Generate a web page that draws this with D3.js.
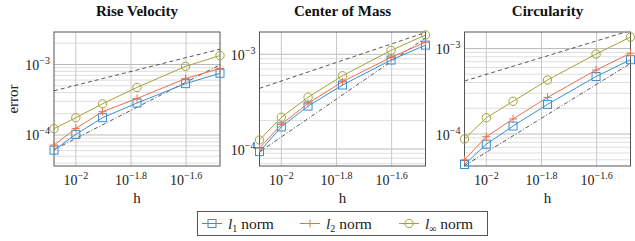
<!DOCTYPE html>
<html><head><meta charset="utf-8">
<script src="https://cdn.jsdelivr.net/npm/d3@7"></script>
<style>body{margin:0;background:#fff}svg{display:block}</style>
</head><body><div id="c"></div>
<script>
const h = [1/120, 1/100, 1/80, 1/60, 1/40, 1/30];
const titles = ["Rise Velocity", "Center of Mass", "Circularity"];
const l1 = [
  [6.1e-5, 1.02e-4, 1.76e-4, 2.84e-4, 5.35e-4, 7.5e-4],
  [9.4e-5, 1.71e-4, 2.84e-4, 4.74e-4, 8.7e-4, 1.25e-3],
  [4.4e-5, 7.6e-5, 1.24e-4, 2.22e-4, 4.7e-4, 7.4e-4]
];
const l2 = [
  [7.2e-5, 1.24e-4, 2.14e-4, 3.3e-4, 6.3e-4, 8.8e-4],
  [1.02e-4, 1.82e-4, 3.04e-4, 5.14e-4, 9.3e-4, 1.34e-3],
  [5.0e-5, 9.3e-5, 1.5e-4, 2.68e-4, 5.6e-4, 8.8e-4]
];
const linf = [
  [1.23e-4, 1.76e-4, 2.77e-4, 4.73e-4, 9.4e-4, 1.34e-3],
  [1.245e-4, 2.16e-4, 3.52e-4, 5.94e-4, 1.1e-3, 1.6e-3],
  [8.75e-5, 1.55e-4, 2.41e-4, 4.28e-4, 8.62e-4, 1.36e-3]
];
// reference lines: values at h = 1/120 and h = 1/30
const refOrder1 = [[4.24e-4, 1.65e-3], [4.37e-4, 1.7e-3], [4.17e-4, 1.62e-3]];
const refOrder2 = [[6.2e-5, 9.9e-4], [9.3e-5, 1.49e-3], [4.26e-5, 6.7e-4]];
const refH = [1/120, 1/30];
// y domains (log10 exponents) per panel
const yExp = [[-4.44, -2.539], [-4.1795, -2.7645], [-4.374, -2.807]];
const xTickExp = [-2, -1.8, -1.6];
const yTickExp = [-4, -3];
const legendLabels = [["1"], ["2"], ["∞"]];

const W = 635, H = 241;
const svg = d3.select("#c").append("svg").attr("width", W).attr("height", H);
const serif = "'Liberation Serif', 'DejaVu Serif', serif";
const colors = ["#3a8ed3", "#e8704e", "#a3a23a"];
const lefts = [54, 259.5, 464.5];
const pw = 166, plotTop = 32, plotBottom = 166;

function sup(sel, base, exp) {
  sel.append("tspan").text(base);
  sel.append("tspan").attr("dy", -6).attr("font-size", "10px").text(exp);
}
function markerDraw(g, type, x, y, color) {
  if (type === 0) g.append("rect").attr("x", x - 4).attr("y", y - 4).attr("width", 8).attr("height", 8)
      .attr("fill", "none").attr("stroke", color).attr("stroke-width", 1);
  else if (type === 1) g.append("path").attr("d", `M${x-4},${y}H${x+4}M${x},${y-4}V${y+4}`)
      .attr("stroke", color).attr("stroke-width", 1);
  else g.append("circle").attr("cx", x).attr("cy", y).attr("r", 4.2)
      .attr("fill", "none").attr("stroke", color).attr("stroke-width", 1);
}

for (let p = 0; p < 3; p++) {
  const L = lefts[p], R = L + pw;
  const x = d3.scaleLog().domain([h[0], h[5]]).range([L, R]);
  const y = d3.scaleLog().domain([Math.pow(10, yExp[p][0]), Math.pow(10, yExp[p][1])]).range([plotBottom, plotTop]);
  const g = svg.append("g");
  const cid = "clip" + p;
  svg.append("clipPath").attr("id", cid).append("rect").attr("x", L).attr("y", plotTop).attr("width", pw).attr("height", plotBottom - plotTop);
  const minor = [];
  for (let e = -5; e <= -2; e++) for (let m = 1; m <= 9; m++) {
    const v = m * Math.pow(10, e);
    if (y(v) > plotTop && y(v) < plotBottom) minor.push({v, major: m === 1});
  }
  g.selectAll(".mg").data(minor).join("line")
    .attr("x1", L).attr("x2", R).attr("y1", d => y(d.v)).attr("y2", d => y(d.v))
    .attr("stroke", d => d.major ? "#bbbbbb" : "#d6d6d6").attr("stroke-width", d => d.major ? 1 : 0.8);
  g.selectAll(".vg").data(xTickExp).join("line")
    .attr("x1", d => x(Math.pow(10, d))).attr("x2", d => x(Math.pow(10, d)))
    .attr("y1", plotTop).attr("y2", plotBottom).attr("stroke", "#c8c8c8").attr("stroke-width", 1);
  const lineGen = d3.line().x(d => x(d[0])).y(d => y(d[1]));
  g.append("path").attr("clip-path", `url(#${cid})`)
    .attr("d", lineGen(refH.map((hh, i) => [hh, refOrder1[p][i]])))
    .attr("stroke", "#444").attr("stroke-width", 0.9).attr("fill", "none").attr("stroke-dasharray", "4,3");
  g.append("path").attr("clip-path", `url(#${cid})`)
    .attr("d", lineGen(refH.map((hh, i) => [hh, refOrder2[p][i]])))
    .attr("stroke", "#444").attr("stroke-width", 0.9).attr("fill", "none").attr("stroke-dasharray", "4,2,1,2");
  g.append("rect").attr("x", L).attr("y", plotTop).attr("width", pw).attr("height", plotBottom - plotTop)
    .attr("fill", "none").attr("stroke", "#555").attr("stroke-width", 1);
  [l1[p], l2[p], linf[p]].forEach((s, k) => {
    g.append("path").attr("d", lineGen(h.map((hh, i) => [hh, s[i]])))
      .attr("stroke", colors[k]).attr("stroke-width", 1).attr("fill", "none");
    h.forEach((hh, i) => markerDraw(g, k, x(hh), y(s[i]), colors[k]));
  });
  xTickExp.forEach(e => {
    const t = g.append("text").attr("x", x(Math.pow(10, e))).attr("y", 185)
      .attr("text-anchor", "middle").attr("font-family", serif).attr("font-size", "14px").attr("fill", "#222");
    sup(t, "10", "−" + String(Math.abs(e)));
  });
  yTickExp.forEach(e => {
    const t = g.append("text").attr("x", L - 4).attr("y", y(Math.pow(10, e)) + 5.5)
      .attr("text-anchor", "end").attr("font-family", serif).attr("font-size", "14px").attr("fill", "#222");
    sup(t, "10", "−" + String(Math.abs(e)));
  });
  g.append("text").attr("x", (L + R) / 2).attr("y", 16).attr("text-anchor", "middle")
    .attr("font-family", serif).attr("font-weight", "bold").attr("font-size", "15px").attr("fill", "#111").text(titles[p]);
  g.append("text").attr("x", (L + R) / 2).attr("y", 203).attr("text-anchor", "middle")
    .attr("font-family", serif).attr("font-size", "15px").attr("fill", "#222").text("h");
}
svg.append("text").attr("transform", "translate(18,99) rotate(-90)").attr("text-anchor", "middle")
  .attr("font-family", serif).attr("font-size", "15px").attr("fill", "#222").text("error");

const lg = svg.append("g");
lg.append("rect").attr("x", 197.5).attr("y", 211.5).attr("width", 290).attr("height", 24)
  .attr("fill", "#fff").attr("stroke", "#555").attr("stroke-width", 1);
const entryX = [202, 300, 399];
legendLabels.forEach((lab, k) => {
  const x0 = entryX[k], yy = 223.5;
  lg.append("line").attr("x1", x0).attr("x2", x0 + 20).attr("y1", yy).attr("y2", yy).attr("stroke", colors[k]).attr("stroke-width", 1);
  markerDraw(lg, k, x0 + 10, yy, colors[k]);
  const t = lg.append("text").attr("x", x0 + 26).attr("y", yy + 5).attr("font-family", serif)
    .attr("font-size", "15.5px").attr("fill", "#222");
  t.append("tspan").attr("font-style", "italic").text("l");
  t.append("tspan").attr("dy", 3).attr("font-size", "10px").text(lab[0]);
  t.append("tspan").attr("dy", -3).text(" norm");
});
</script></body></html>
